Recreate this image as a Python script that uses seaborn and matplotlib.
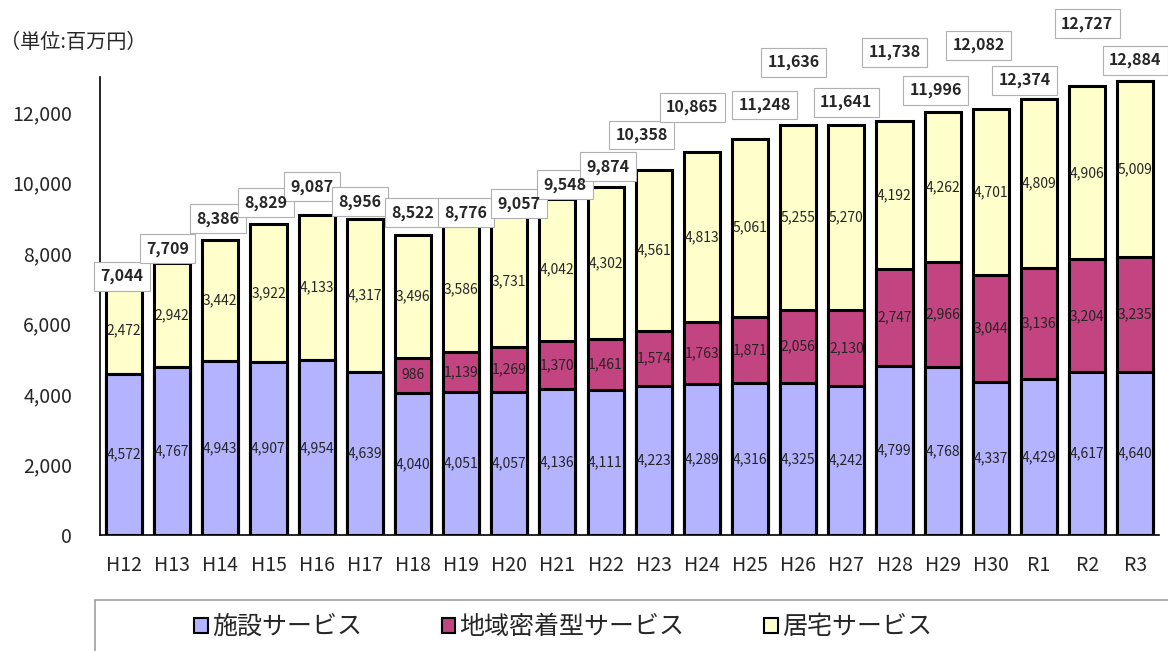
import matplotlib
matplotlib.use("Agg")
import matplotlib.pyplot as plt
import numpy as np
import pandas as pd
import seaborn as sns
from matplotlib.patches import Patch, Rectangle

years = ["H12", "H13", "H14", "H15", "H16", "H17", "H18", "H19", "H20", "H21", "H22",
         "H23", "H24", "H25", "H26", "H27", "H28", "H29", "H30", "R1", "R2", "R3"]
facility = [4572, 4767, 4943, 4907, 4954, 4639, 4040, 4051, 4057, 4136, 4111,
            4223, 4289, 4316, 4325, 4242, 4799, 4768, 4337, 4429, 4617, 4640]
community = [0, 0, 0, 0, 0, 0, 986, 1139, 1269, 1370, 1461,
             1574, 1763, 1871, 2056, 2130, 2747, 2966, 3044, 3136, 3204, 3235]
home = [2472, 2942, 3442, 3922, 4133, 4317, 3496, 3586, 3731, 4042, 4302,
        4561, 4813, 5061, 5255, 5270, 4192, 4262, 4701, 4809, 4906, 5009]
totals = [7044, 7709, 8386, 8829, 9087, 8956, 8522, 8776, 9057, 9548, 9874,
          10358, 10865, 11248, 11636, 11641, 11738, 11996, 12082, 12374, 12727, 12884]

# where the boxed totals sit (data units / bar offsets), as placed in the original
label_y = [7340, 8130, 8980, 9430, 9880, 9460, 9150, 9150, 9400, 9940, 10450,
           11350, 12140, 12200, 13410, 12280, 13700, 12620, 13890, 12900, 14510, 13470]
label_dx = [-0.05, -0.1, -0.05, -0.05, -0.1, -0.1, 0, 0.1, 0.2, 0.15, 0.05,
            -0.25, -0.2, 0.3, -0.1, 0, 0, -0.15, -0.25, -0.3, 0, 0]

blue = "#B3B3FF"
red = "#C24480"
yellow = "#FFFFCC"

sns.set_style("white")
plt.rcParams["font.family"] = ["Noto Sans CJK JP", "DejaVu Sans"]

df = pd.DataFrame({"year": years, "facility": facility,
                   "community": community, "home": home})
df["lvl2"] = df["facility"] + df["community"]
df["lvl3"] = df["lvl2"] + df["home"]

fig = plt.figure(figsize=(11.68, 6.51), dpi=100)
ax = fig.add_axes([0.0856, 0.178, 0.907, 0.704])

kw = dict(x="year", width=0.75, edgecolor="black", linewidth=2.2,
          saturation=1, ax=ax, order=years)
sns.barplot(data=df, y="lvl3", color=yellow, **kw)
sns.barplot(data=df, y="lvl2", color=red, **kw)
sns.barplot(data=df, y="facility", color=blue, **kw)

ax.set_ylim(0, 13000)
ax.set_xlim(-0.5, len(years) - 0.5)
ax.set_yticks(range(0, 13000, 2000))
ax.set_yticklabels([f"{v:,}" for v in range(0, 13000, 2000)])
ax.set_xlabel("")
ax.set_ylabel("")
for s in ["top", "right"]:
    ax.spines[s].set_visible(False)
for s in ["left", "bottom"]:
    ax.spines[s].set_color("black")
    ax.spines[s].set_linewidth(1.2)
ax.tick_params(axis="y", direction="in", length=5, color="gray", pad=20, labelsize=14)
ax.tick_params(axis="x", length=0, pad=14, labelsize=14)
ax.set_xticks(np.arange(-0.5, len(years), 1.0), minor=True)
ax.tick_params(axis="x", which="minor", direction="in", length=5, color="gray")

for i in range(len(years)):
    ax.text(i, facility[i] / 2, f"{facility[i]:,}", ha="center", va="center", fontsize=10)
    if community[i] > 0:
        ax.text(i, facility[i] + community[i] / 2, f"{community[i]:,}",
                ha="center", va="center", fontsize=10)
    ax.text(i, facility[i] + community[i] + home[i] / 2, f"{home[i]:,}",
            ha="center", va="center", fontsize=10)
    # box first, then the number on top so overlapping boxes never hide digits
    ax.text(i + label_dx[i], label_y[i], f"{totals[i]:,}", ha="center", va="center",
            fontsize=11.5, fontweight="bold", clip_on=False, color="none", zorder=5,
            bbox=dict(boxstyle="square,pad=0.4", facecolor="white", edgecolor="#b0b0b0", linewidth=0.8))
    ax.text(i + label_dx[i], label_y[i], f"{totals[i]:,}", ha="center", va="center",
            fontsize=11.5, fontweight="bold", clip_on=False, zorder=6)

fig.text(0.0, 1 - 43 / 651, "（単位:百万円）", fontsize=14.5, va="center", ha="left")

fig.add_artist(Rectangle((95 / 1168, -0.05), 1.0, 0.05 + 1 - 600 / 651,
                         transform=fig.transFigure, facecolor="white",
                         edgecolor="#a0a0a0", linewidth=1.2))
handles = [Patch(facecolor=blue, edgecolor="black", linewidth=1.5),
           Patch(facecolor=red, edgecolor="black", linewidth=1.5),
           Patch(facecolor=yellow, edgecolor="black", linewidth=1.5)]
fig.legend(handles, ["施設サービス", "地域密着型サービス", "居宅サービス"],
           loc="center", bbox_to_anchor=(0.482, 1 - 627 / 651), ncol=3, frameon=False,
           fontsize=18, handlelength=0.55, handleheight=0.55, handletextpad=0.15,
           columnspacing=3.2)

fig.savefig("out.png", dpi=100)
